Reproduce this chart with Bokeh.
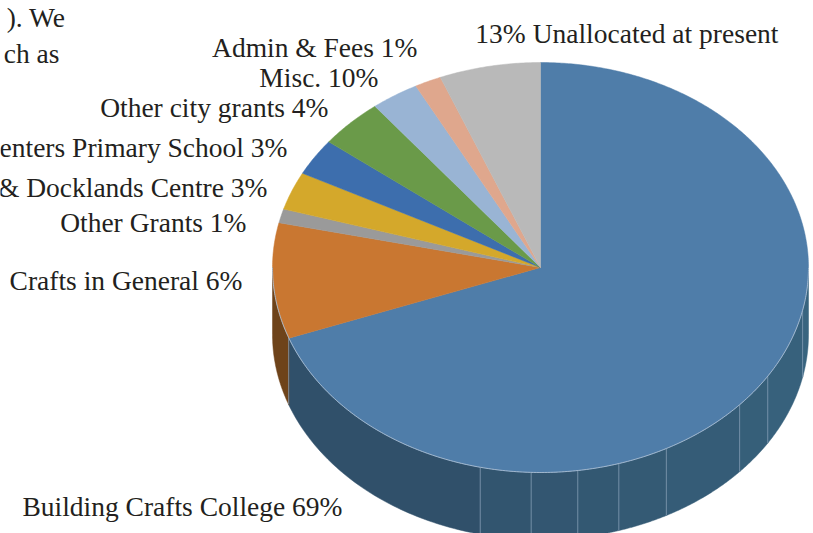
import numpy as np
from bokeh.plotting import figure
from bokeh.models import Range1d
from bokeh.embed import file_html
from bokeh.resources import INLINE
from bokeh.core.properties import value

# ---------------- data ----------------
CATEGORIES = ["Building Crafts College", "Crafts in General", "Other Grants",
              "Docklands Centre", "Primary School", "Other city grants",
              "Misc.", "Admin & Fees", "Unallocated at present"]
SHARES = [69.4, 9.1, 1.1, 3.0, 2.9, 3.9, 2.9, 1.6, 6.1]
LABELS = ["Building Crafts College 69%", "Crafts in General 6%", "Other Grants 1%",
          "& Docklands Centre 3%", "enters Primary School 3%", "Other city grants 4%",
          "Misc. 10%", "Admin & Fees 1%", "13% Unallocated at present"]
TOP_COLORS = ["#4F7DA9", "#C97731", "#9A9A9A", "#D4A82B", "#3D6EAD",
              "#6A9A49", "#99B4D4", "#DFA78D", "#B9B9B9"]
SIDE_COLORS = ["#33587A", "#6E431A", "#5C5C5C", "#7F6419", "#244168",
               "#3F5C2C", "#5C6C80", "#866455", "#6F6F6F"]
BODY_TEXT = ["). We", "ch as"]

# ---------------- layout ----------------
W, H = 813, 533
CX, CY, RX, RY, DEPTH = 540, 267, 268, 205, 67
LABEL_RIGHT = [342, 242, 246, 267, 287, 328, 378, 417, 778]
LABEL_BASE = [506, 280, 222, 187, 147, 107, 77, 47, 33]
BODY_RIGHT = [65, 59]
BODY_BASE = [17, 53]
FACET_LINES = [102, 122, 132, 152, 163, 172, 182, 193, 250]
FONT = "Liberation Serif"
FONT_SIZE = "27.5px"
TEXT_COLOR = "#231F20"


def edge(theta_deg, drop=0.0):
    t = np.radians(theta_deg)
    return CX + RX * np.sin(t), CY - RY * np.cos(t) + drop


def hex_mix(c1, c2, f):
    a = [int(c1[i:i + 2], 16) for i in (1, 3, 5)]
    b = [int(c2[i:i + 2], 16) for i in (1, 3, 5)]
    return "#%02x%02x%02x" % tuple(int(round(a[k] + (b[k] - a[k]) * f)) for k in range(3))


p = figure(width=W, height=H, output_backend="svg", toolbar_location=None,
           x_range=Range1d(0, W), y_range=Range1d(H, 0),
           min_border=0, min_border_left=0, min_border_right=0,
           min_border_top=0, min_border_bottom=0)
p.axis.visible = False
p.grid.visible = False
p.outline_line_color = None
p.background_fill_color = "white"
p.border_fill_color = "white"

total = float(sum(SHARES))
angles = np.concatenate([[0.0], np.cumsum(SHARES) / total * 360.0])

# ---- sides (front half only); facets split only where a facet line hides the seam ----
side_xs, side_ys, side_cols = [], [], []
for i in range(len(SHARES)):
    a, b = max(angles[i], 90.0), min(angles[i + 1], 270.0)
    if b <= a:
        continue
    cuts = sorted(set([a] + [f for f in FACET_LINES if a < f < b] + [b]))
    for k in range(len(cuts) - 1):
        t = np.linspace(cuts[k], cuts[k + 1], 60)
        x1, y1 = edge(t)
        x2, y2 = edge(t[::-1], DEPTH)
        side_xs.append(list(np.concatenate([x1, x2])))
        side_ys.append(list(np.concatenate([y1, y2])))
        if i == 0:
            mid = 0.5 * (cuts[k] + cuts[k + 1])
            f = (mid - 95.0) / 120.0
            side_cols.append(hex_mix("#38647F", "#30506A", min(max(f, 0), 1)))
        else:
            side_cols.append(SIDE_COLORS[i])
p.patches(side_xs, side_ys, fill_color=side_cols, line_color=side_cols, line_width=0.5)

# facet lines on the side
fx, fy0, fy1 = [], [], []
for f in FACET_LINES:
    x, y = edge(f)
    fx.append(x); fy0.append(y); fy1.append(y + DEPTH)
p.segment(x0=fx, y0=fy0, x1=fx, y1=fy1, line_color="#7F9AB1", line_width=1, line_alpha=0.8)

# ---- top face ----
top_xs, top_ys = [], []
for i in range(len(SHARES)):
    t = np.linspace(angles[i], angles[i + 1], max(int((angles[i + 1] - angles[i]) * 2), 4))
    x, y = edge(t)
    top_xs.append([CX] + list(x))
    top_ys.append([CY] + list(y))
p.patches(top_xs, top_ys, fill_color=TOP_COLORS, line_color=TOP_COLORS, line_width=0.5)

# highlight rim on front edge
t = np.linspace(90, 270, 300)
rx_, ry_ = edge(t)
p.line(rx_, ry_, line_color="#A9BDD2", line_width=1, line_alpha=0.9)

# ---- labels ----
p.text(x=LABEL_RIGHT, y=LABEL_BASE, text=LABELS, text_align="right",
       text_baseline="alphabetic", text_font=value(FONT), text_font_size=FONT_SIZE,
       text_color=TEXT_COLOR)
p.text(x=BODY_RIGHT, y=BODY_BASE, text=BODY_TEXT, text_align="right",
       text_baseline="alphabetic", text_font=value(FONT), text_font_size=FONT_SIZE,
       text_color=TEXT_COLOR)

open("out.html", "w").write(file_html(p, INLINE))
